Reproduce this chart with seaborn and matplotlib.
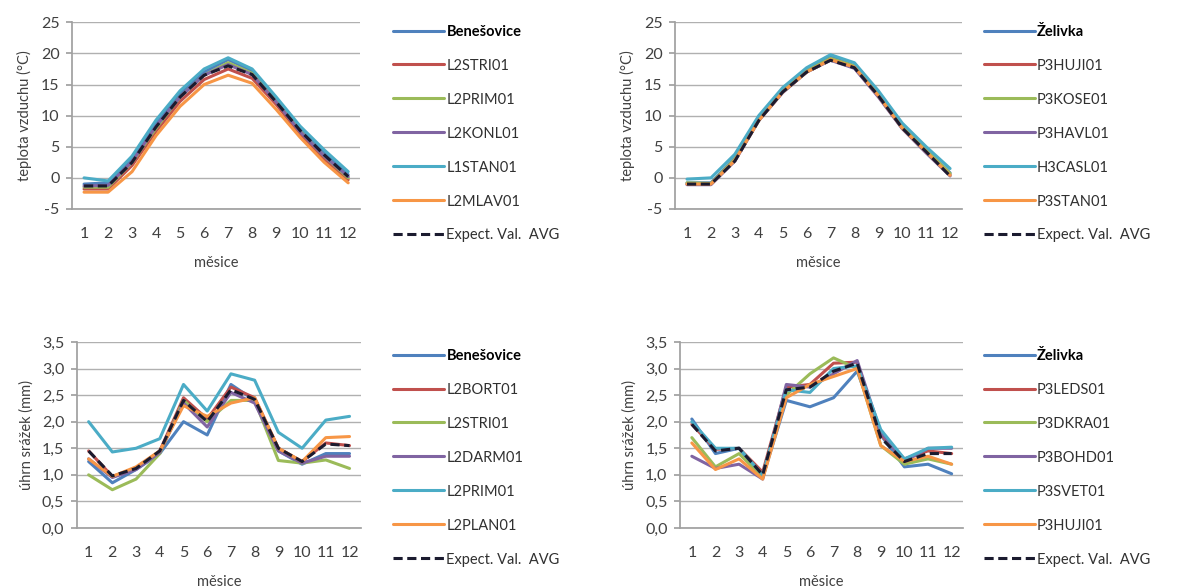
import matplotlib
matplotlib.use("Agg")
import matplotlib.pyplot as plt
from matplotlib.ticker import FuncFormatter, MultipleLocator
import seaborn as sns
import pandas as pd
import numpy as np

months = list(range(1, 13))

# teplota - Benešovice
temp_ben_names = ["Benešovice", "L2STRI01", "L2PRIM01", "L2KONL01", "L1STAN01", "L2MLAV01"]
temp_ben = [
    [-1.0, -0.8, 3.0, 8.8, 13.5, 17.0, 19.0, 17.2, 12.8, 7.8, 4.0, 0.5],
    [-1.8, -1.8, 2.0, 7.5, 12.3, 15.8, 17.5, 16.0, 11.8, 7.0, 3.0, -0.3],
    [-1.5, -1.5, 2.5, 8.0, 13.0, 16.5, 18.5, 16.8, 12.3, 7.5, 3.5, 0.0],
    [-1.3, -1.2, 2.6, 8.3, 13.0, 16.5, 18.2, 16.6, 12.2, 7.4, 3.5, 0.2],
    [0.0, -0.5, 3.5, 9.3, 14.0, 17.5, 19.3, 17.5, 13.0, 8.3, 4.5, 1.0],
    [-2.3, -2.3, 1.0, 6.8, 11.5, 15.0, 16.5, 15.2, 11.0, 6.5, 2.5, -0.8],
]
temp_ben_avg = [-1.3, -1.3, 2.5, 8.2, 13.0, 16.5, 18.0, 16.6, 12.2, 7.6, 3.7, 0.2]

# teplota - Želivka
temp_zel_names = ["Želivka", "P3HUJI01", "P3KOSE01", "P3HAVL01", "H3CASL01", "P3STAN01"]
temp_zel = [
    [-0.8, -0.8, 3.2, 9.5, 14.0, 17.3, 19.5, 18.0, 13.5, 8.3, 4.5, 0.8],
    [-1.0, -1.0, 2.8, 9.3, 13.8, 17.0, 19.0, 17.8, 13.2, 8.0, 4.2, 0.5],
    [-0.8, -0.9, 3.0, 9.5, 14.0, 17.2, 19.2, 18.0, 13.4, 8.2, 4.5, 0.7],
    [-1.1, -1.1, 2.7, 9.2, 13.7, 17.0, 18.9, 17.6, 13.0, 7.9, 4.0, 0.3],
    [-0.2, 0.0, 3.8, 10.0, 14.5, 17.7, 19.8, 18.5, 14.0, 8.8, 5.0, 1.5],
    [-1.0, -1.0, 2.8, 9.2, 13.8, 17.0, 19.0, 17.8, 13.2, 8.0, 4.2, 0.4],
]
temp_zel_avg = [-1.0, -1.0, 2.7, 9.2, 13.8, 17.0, 18.9, 17.7, 13.2, 8.0, 4.2, 0.3]

# srážky - Benešovice
prec_ben_names = ["Benešovice", "L2BORT01", "L2STRI01", "L2DARM01", "L2PRIM01", "L2PLAN01"]
prec_ben = [
    [1.25, 0.85, 1.10, 1.40, 2.00, 1.75, 2.70, 2.40, 1.45, 1.20, 1.40, 1.40],
    [1.45, 0.97, 1.12, 1.45, 2.45, 2.05, 2.65, 2.45, 1.50, 1.25, 1.60, 1.55],
    [1.00, 0.72, 0.92, 1.40, 2.40, 2.00, 2.40, 2.40, 1.27, 1.22, 1.28, 1.12],
    [1.30, 0.95, 1.10, 1.42, 2.35, 1.90, 2.55, 2.35, 1.45, 1.22, 1.35, 1.35],
    [2.00, 1.43, 1.50, 1.68, 2.70, 2.20, 2.90, 2.78, 1.80, 1.50, 2.03, 2.10],
    [1.30, 0.97, 1.15, 1.45, 2.30, 2.10, 2.35, 2.45, 1.50, 1.25, 1.70, 1.72],
]
prec_ben_avg = [1.45, 0.98, 1.12, 1.45, 2.40, 2.00, 2.60, 2.42, 1.50, 1.25, 1.58, 1.55]

# srážky - Želivka
prec_zel_names = ["Želivka", "P3LEDS01", "P3DKRA01", "P3BOHD01", "P3SVET01", "P3HUJI01"]
prec_zel = [
    [2.05, 1.40, 1.50, 0.95, 2.40, 2.28, 2.45, 2.95, 1.75, 1.15, 1.20, 1.02],
    [1.95, 1.48, 1.50, 1.05, 2.65, 2.70, 3.10, 3.12, 1.75, 1.30, 1.45, 1.40],
    [1.70, 1.15, 1.40, 0.95, 2.50, 2.90, 3.20, 3.00, 1.55, 1.20, 1.30, 1.20],
    [1.35, 1.12, 1.20, 0.92, 2.70, 2.65, 2.90, 3.15, 1.80, 1.25, 1.50, 1.50],
    [2.00, 1.50, 1.50, 1.00, 2.60, 2.55, 3.00, 3.05, 1.85, 1.30, 1.50, 1.52],
    [1.60, 1.10, 1.30, 0.92, 2.45, 2.70, 2.85, 3.00, 1.55, 1.25, 1.35, 1.20],
]
prec_zel_avg = [1.95, 1.45, 1.50, 1.00, 2.60, 2.65, 2.95, 3.10, 1.70, 1.25, 1.40, 1.40]

colors = ["#4F81BD", "#C0504D", "#9BBB59", "#8064A2", "#4BACC6", "#F79646"]
avg_label = "Expect. Val.  AVG"

sns.set_theme(style="white")
plt.rcParams["font.family"] = ["Lato", "DejaVu Sans"]


def draw_panel(fig, rect, names, series, avg, ylim, ystep, ylabel, decimals, legend_anchor):
    ax = fig.add_axes(rect)
    rows = []
    for name, vals in zip(names, series):
        for m, v in zip(months, vals):
            rows.append({"month": m, "value": v, "series": name})
    df = pd.DataFrame(rows)
    sns.lineplot(data=df, x="month", y="value", hue="series", hue_order=names,
                 palette=colors, linewidth=2.2, ax=ax, legend=False)
    avg_df = pd.DataFrame({"month": months, "value": avg})
    sns.lineplot(data=avg_df, x="month", y="value", color="#1b1b2f", linewidth=2.2,
                 linestyle=(0, (3, 1.5)), ax=ax, legend=False)

    ax.set_xlim(0.5, 12.5)
    ax.set_ylim(*ylim)
    ax.yaxis.set_major_locator(MultipleLocator(ystep))
    if decimals:
        ax.yaxis.set_major_formatter(FuncFormatter(lambda v, p: f"{v:.1f}".replace(".", ",")))
    else:
        ax.yaxis.set_major_formatter(FuncFormatter(lambda v, p: f"{v:.0f}"))
    ax.set_xticks(months)
    ax.set_xticks(np.arange(0.5, 13, 1), minor=True)
    ax.tick_params(axis="x", which="major", length=0, labelsize=11.5, colors="#404040", pad=13)
    ax.tick_params(axis="x", which="minor", length=4, color="#a0a0a0", direction="out")
    ax.tick_params(axis="y", which="major", length=4, color="#a0a0a0", labelsize=11.5,
                   colors="#404040", direction="out", left=True, pad=5)
    ax.grid(axis="y", color="#b0b0b0", linewidth=1)
    ax.grid(axis="x", visible=False)
    for s in ["top", "right"]:
        ax.spines[s].set_visible(False)
    for s in ["left", "bottom"]:
        ax.spines[s].set_color("#a0a0a0")
    ax.set_ylabel(ylabel, fontsize=10.5, color="#404040", labelpad=6)
    ax.set_xlabel("měsice", fontsize=10.5, color="#404040", labelpad=11)

    handles = [plt.Line2D([], [], color=c, linewidth=2.2) for c in colors]
    handles.append(plt.Line2D([], [], color="#1b1b2f", linewidth=2.2, linestyle=(0, (3, 1.5))))
    leg = fig.legend(handles, names + [avg_label], loc="upper left",
                     bbox_to_anchor=legend_anchor, frameon=False, fontsize=10.5,
                     handlelength=3.5, handletextpad=0.15, labelspacing=1.37, borderaxespad=0)
    for t in leg.get_texts():
        t.set_color("#303030")
    leg.get_texts()[0].set_fontweight("bold")
    leg.get_texts()[0].set_color("#000000")
    return ax


fig = plt.figure(figsize=(11.81, 5.87), dpi=100)

draw_panel(fig, [0.061, 0.644, 0.244, 0.318], temp_ben_names, temp_ben, temp_ben_avg,
           (-5, 25), 5, "teplota vzduchu (°C)", False, (0.328, 0.968))
draw_panel(fig, [0.5716, 0.644, 0.243, 0.318], temp_zel_names, temp_zel, temp_zel_avg,
           (-5, 25), 5, "teplota vzduchu (°C)", False, (0.828, 0.968))
draw_panel(fig, [0.065, 0.1005, 0.241, 0.317], prec_ben_names, prec_ben, prec_ben_avg,
           (0, 3.5), 0.5, "úhrn srážek (mm)", True, (0.328, 0.416))
draw_panel(fig, [0.5758, 0.1005, 0.240, 0.317], prec_zel_names, prec_zel, prec_zel_avg,
           (0, 3.5), 0.5, "úhrn srážek (mm)", True, (0.828, 0.416))

fig.savefig("out.png", dpi=100, facecolor="white")
